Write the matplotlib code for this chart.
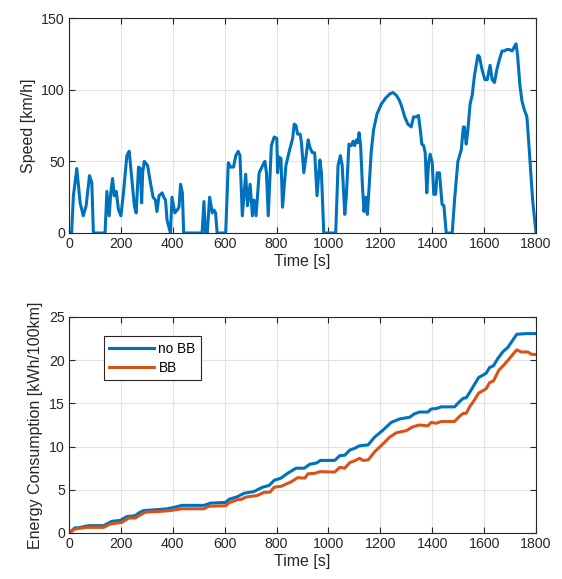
import matplotlib
matplotlib.use("Agg")
import matplotlib.pyplot as plt
import numpy as np

plt.rcParams['font.family'] = ['Liberation Sans', 'DejaVu Sans']

# Speed profile (time [s], speed [km/h])
t_speed = [0, 10, 17, 30, 43, 55, 66, 79, 88, 94, 139, 146, 155, 161, 168, 174, 182, 191, 200, 210,
           223, 232, 242, 252, 259, 268, 275, 280, 284, 290, 303, 313, 324, 333, 339, 347, 359, 365,
           372, 378, 391, 397, 408, 417, 424, 430, 437, 442, 513, 520, 526, 533, 542, 552, 559, 565,
           571, 604, 614, 623, 634, 643, 652, 659, 668, 681, 688, 698, 707, 713, 721, 733, 746, 755,
           761, 768, 780, 791, 801, 804, 810, 817, 823, 836, 849, 862, 868, 875, 881, 891, 896, 905,
           922, 928, 938, 947, 956, 967, 973, 982, 1028, 1037, 1046, 1053, 1063, 1069, 1079, 1088,
           1095, 1101, 1108, 1114, 1118, 1124, 1131, 1137, 1144, 1150, 1156, 1165, 1174, 1187, 1204,
           1220, 1236, 1249, 1262, 1272, 1281, 1294, 1306, 1319, 1328, 1338, 1347, 1354, 1360, 1367,
           1373, 1379, 1386, 1392, 1400, 1406, 1413, 1419, 1428, 1435, 1438, 1445, 1454, 1477, 1486,
           1499, 1512, 1520, 1524, 1531, 1537, 1546, 1554, 1563, 1576, 1582, 1592, 1603, 1612, 1623,
           1631, 1640, 1649, 1659, 1669, 1678, 1687, 1697, 1708, 1717, 1723, 1729, 1738, 1746, 1755,
           1765, 1774, 1787, 1800]
v_speed = [0, 0, 26, 45, 21, 12, 19, 40, 35, 0, 0, 29, 12, 28, 38, 26, 29, 16, 12, 28,
           54, 57, 38, 19, 14, 46, 45, 21, 42, 50, 47, 36, 25, 23, 15, 26, 28, 25,
           23, 9, 0, 25, 14, 16, 18, 34, 28, 0, 0, 22, 0, 0, 25, 14, 16, 14,
           0, 0, 49, 46, 46, 54, 57, 54, 12, 41, 19, 34, 12, 23, 12, 42, 47, 50,
           42, 12, 61, 67, 66, 42, 53, 52, 18, 47, 57, 66, 76, 75, 69, 69, 63, 42,
           65, 60, 56, 56, 26, 51, 42, 0, 0, 47, 54, 47, 13, 26, 62, 61,
           64, 61, 65, 63, 70, 61, 33, 15, 25, 13, 30, 57, 72, 83, 90,
           94, 97, 98, 96, 93, 89, 81, 76, 74, 81, 81, 82, 72, 62, 61,
           56, 28, 49, 55, 49, 27, 27, 42, 42, 26, 20, 19, 0, 0, 23,
           50, 58, 74, 74, 62, 71, 90, 96, 110, 124, 123, 114, 107, 107, 117,
           107, 105, 114, 121, 127, 127, 128, 128, 127, 130, 132, 124, 103, 92, 86,
           81, 58, 23, 0]

# Energy consumption [kWh/100km]
t_nobb = [0, 23, 36, 75, 133, 165, 197, 223, 255, 268, 288, 339, 378, 410, 436, 520, 546, 604,
          617, 649, 675, 713, 746, 771, 791, 817, 842, 875, 907, 928, 954, 969, 1024, 1044, 1063,
          1082, 1101, 1118, 1153, 1178, 1210, 1242, 1274, 1313, 1332, 1351, 1383, 1396, 1415, 1435,
          1486, 1505, 1520, 1531, 1546, 1563, 1579, 1597, 1608, 1621, 1636, 1653, 1673, 1692, 1710,
          1726, 1762, 1800]
e_nobb = [0, 0.6, 0.6, 0.85, 0.85, 1.35, 1.46, 1.9, 2.0, 2.3, 2.6, 2.7, 2.8, 3.0, 3.2, 3.2, 3.46, 3.54,
          3.9, 4.2, 4.6, 4.8, 5.3, 5.5, 6.1, 6.35, 6.9, 7.5, 7.5, 7.96, 8.1, 8.4, 8.4, 8.96, 9.0,
          9.6, 9.8, 10.08, 10.2, 11.1, 11.9, 12.8, 13.2, 13.4, 13.8, 14.0, 14.0, 14.35, 14.4, 14.6,
          14.6, 15.2, 15.6, 15.65, 16.35, 17.2, 18.0, 18.3, 18.5, 19.15, 19.35, 20.2, 21.0, 21.5, 22.3,
          23.0, 23.08, 23.08]

t_bb = [0, 23, 68, 133, 159, 204, 230, 255, 275, 294, 352, 391, 436, 520, 539, 604, 617, 649, 665,
        681, 726, 752, 775, 791, 817, 855, 881, 909, 921, 947, 967, 1024, 1044, 1063, 1082, 1101,
        1120, 1133, 1153, 1178, 1210, 1236, 1262, 1300, 1326, 1351, 1383, 1396, 1415, 1435, 1486,
        1505, 1520, 1531, 1546, 1563, 1579, 1597, 1608, 1621, 1636, 1657, 1678, 1698, 1717, 1726,
        1743, 1769, 1781, 1800]
e_bb = [0, 0.46, 0.65, 0.65, 1.04, 1.23, 1.73, 1.73, 2.1, 2.4, 2.5, 2.6, 2.8, 2.8, 3.1, 3.15, 3.5, 3.85, 3.9,
        4.15, 4.35, 4.7, 4.73, 5.3, 5.4, 5.9, 6.4, 6.35, 6.85, 6.9, 7.1, 7.05, 7.6, 7.5, 8.15, 8.35,
        8.65, 8.4, 8.45, 9.4, 10.3, 11.1, 11.6, 11.85, 12.3, 12.5, 12.4, 12.8, 12.7, 12.9, 12.9,
        13.5, 13.85, 13.85, 14.7, 15.4, 16.2, 16.5, 16.7, 17.4, 17.6, 18.85, 19.5, 20.2, 20.9, 21.2,
        20.95, 20.95, 20.7, 20.65]

x_ticks = [0, 200, 400, 600, 800, 1000, 1200, 1400, 1600, 1800]
speed_ticks = [0, 50, 100, 150]
energy_ticks = [0, 5, 10, 15, 20, 25]

blue = '#0072BD'
orange = '#D95319'
axcol = '#262626'

fig = plt.figure(figsize=(5.62, 5.79), dpi=100)
ax1 = fig.add_axes([69/562, 1-233/579, 467/562, 215/579])
ax2 = fig.add_axes([69/562, 1-533/579, 467/562, 216/579])


def style(ax):
    ax.set_xlim(0, 1800)
    ax.set_xticks(x_ticks)
    ax.grid(True, color='#e3e3e3', linewidth=0.8)
    ax.set_axisbelow(True)
    ax.tick_params(direction='in', top=True, right=True, length=4, width=0.8,
                   colors=axcol, labelsize=10.2, pad=3)
    for s in ax.spines.values():
        s.set_color(axcol)
        s.set_linewidth(0.8)
    ax.set_xlabel('Time [s]', fontsize=11.5, color=axcol, labelpad=2)


ax1.plot(t_speed, v_speed, color=blue, linewidth=2.2, solid_joinstyle='round')
style(ax1)
ax1.set_ylim(0, 150)
ax1.set_yticks(speed_ticks)
ax1.set_ylabel('Speed [km/h]', fontsize=11.5, color=axcol, labelpad=4)

ax2.plot(t_nobb, e_nobb, color=blue, linewidth=2.2, label='no BB')
ax2.plot(t_bb, e_bb, color=orange, linewidth=2.2, label='BB')
style(ax2)
ax2.set_ylim(0, 25)
ax2.set_yticks(energy_ticks)
ax2.set_ylabel('Energy Consumption [kWh/100km]', fontsize=11.5, color=axcol, labelpad=4)
leg = ax2.legend(loc='upper left', bbox_to_anchor=(0.075, 0.91), fontsize=9.8,
                 handlelength=3.3, frameon=True, fancybox=False, framealpha=1,
                 edgecolor=axcol, borderpad=0.4, labelspacing=0.35, handletextpad=0.3,
                 borderaxespad=0)
leg.get_frame().set_linewidth(0.8)

fig.savefig('out.png', dpi=100)
